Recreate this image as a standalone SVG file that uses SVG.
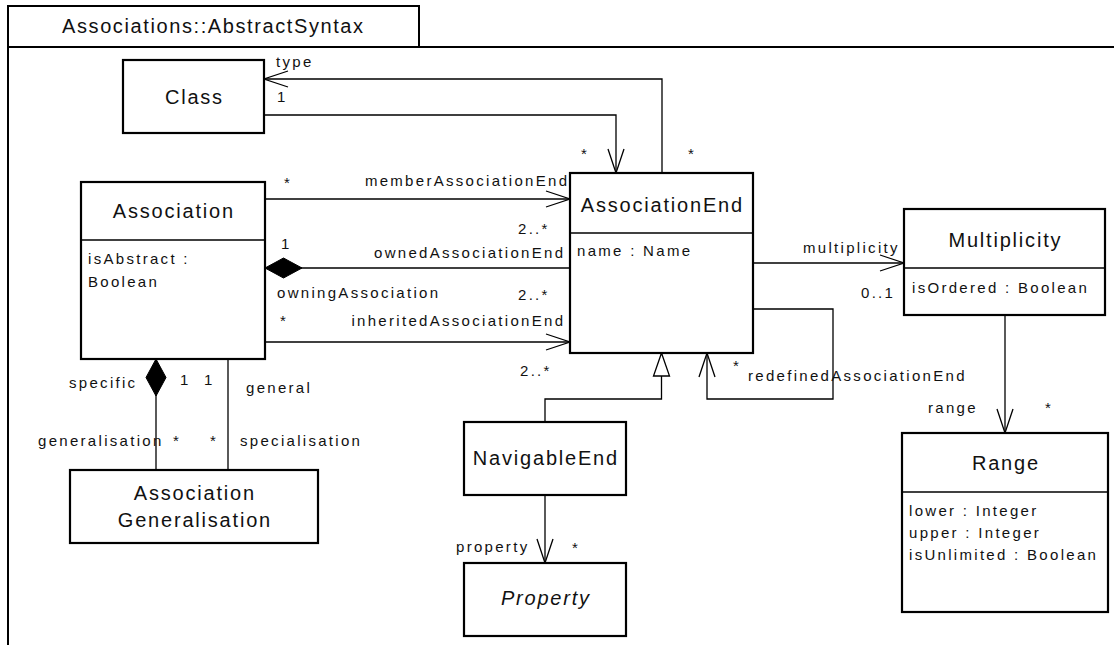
<svg xmlns="http://www.w3.org/2000/svg" width="1114" height="645" viewBox="0 0 1114 645">
<style>
.box{fill:#fff;stroke:#000;stroke-width:2.2}
.div{stroke:#000;stroke-width:1.6}
.frame{fill:none;stroke:#000;stroke-width:2}
.c{fill:none;stroke:#000;stroke-width:1.3}
text{font-family:"Liberation Sans",Arial,sans-serif;fill:#111}
.t{font-size:20px;letter-spacing:1.6px}
.tm{font-size:20px;letter-spacing:1.8px;text-anchor:middle}
.l{font-size:15px;letter-spacing:2.3px}
.le{font-size:15px;letter-spacing:2.3px;text-anchor:end}
</style>
<defs>
<marker id="open" markerUnits="userSpaceOnUse" markerWidth="30" markerHeight="20" orient="auto" overflow="visible" refX="0" refY="0">
<path d="M-24,-8 L0,0 L-24,8" fill="none" stroke="#000" stroke-width="1.3"/>
</marker>
<marker id="dia" markerUnits="userSpaceOnUse" markerWidth="40" markerHeight="22" orient="auto" overflow="visible" refX="0" refY="0">
<path d="M0,0 L18.5,-10 L37,0 L18.5,10 Z" fill="#000" stroke="#000" stroke-width="1"/>
</marker>
<marker id="tri" markerUnits="userSpaceOnUse" markerWidth="30" markerHeight="20" orient="auto" overflow="visible" refX="0" refY="0">
<path d="M0,0 L-23,-8 L-23,8 Z" fill="#fff" stroke="#000" stroke-width="1.3"/>
</marker>
</defs>
<rect width="1114" height="645" fill="#fff"/>
<g id="frame">
<rect x="8" y="6" width="411" height="41" class="frame"/>
<line x1="8" y1="47" x2="1114" y2="47" class="frame"/>
<line x1="8" y1="6" x2="8" y2="645" class="frame"/>
<text class="t" x="62" y="33">Associations::AbstractSyntax</text>
</g>
<g id="connectors">
<polyline class="c" points="662,173 662,79 264,79" marker-end="url(#open)"/>
<polyline class="c" points="264,115 616,115 616,173" marker-end="url(#open)"/>
<line class="c" x1="265" y1="199" x2="570" y2="199" marker-end="url(#open)"/>
<line class="c" x1="265" y1="268" x2="570" y2="268" marker-start="url(#dia)"/>
<line class="c" x1="265" y1="342" x2="570" y2="342" marker-end="url(#open)"/>
<line class="c" x1="753" y1="263" x2="904" y2="263" marker-end="url(#open)"/>
<polyline class="c" points="753,309 833,309 833,399 707,399 707,353" marker-end="url(#open)"/>
<polyline class="c" points="545,422 545,399 661.5,399 661.5,353" marker-end="url(#tri)"/>
<line class="c" x1="545" y1="495" x2="545" y2="563" marker-end="url(#open)"/>
<line class="c" x1="1005" y1="315" x2="1005" y2="433" marker-end="url(#open)"/>
<line class="c" x1="156" y1="359" x2="156" y2="470" marker-start="url(#dia)"/>
<line class="c" x1="228" y1="359" x2="228" y2="470"/>
<text class="l" x="276" y="67">type</text>
<text class="l" x="277" y="102">1</text>
<text class="l" x="581" y="159">*</text>
<text class="l" x="688" y="159">*</text>
<text class="l" x="284" y="188">*</text>
<text class="le" x="569.3" y="186">memberAssociationEnd</text>
<text class="l" x="518" y="234">2..*</text>
<text class="l" x="281" y="249">1</text>
<text class="le" x="565.3" y="258">ownedAssociationEnd</text>
<text class="l" x="277" y="298">owningAssociation</text>
<text class="l" x="518" y="300">2..*</text>
<text class="l" x="280" y="326">*</text>
<text class="le" x="565.3" y="326">inheritedAssociationEnd</text>
<text class="l" x="520" y="376">2..*</text>
<text class="l" x="803" y="253">multiplicity</text>
<text class="l" x="861" y="298">0..1</text>
<text class="l" x="733" y="371">*</text>
<text class="l" x="748" y="381">redefinedAssociationEnd</text>
<text class="l" x="928" y="413">range</text>
<text class="l" x="1045" y="413">*</text>
<text class="l" x="69" y="388">specific</text>
<text class="l" x="180" y="385">1</text>
<text class="l" x="204" y="385">1</text>
<text class="l" x="246" y="393">general</text>
<text class="l" x="38" y="446">generalisation</text>
<text class="l" x="173" y="446">*</text>
<text class="l" x="210" y="446">*</text>
<text class="l" x="240" y="446">specialisation</text>
<text class="l" x="456" y="552">property</text>
<text class="l" x="572" y="553">*</text>
</g>
<g id="Class">
<rect class="box" x="123" y="60" width="141" height="73"/>
<text class="tm" x="194.4" y="104">Class</text>
</g>
<g id="Association">
<rect class="box" x="81" y="182" width="184" height="177"/>
<line class="div" x1="81" y1="240" x2="265" y2="240"/>
<text class="tm" x="173.9" y="218">Association</text>
<text class="l" x="88" y="264">isAbstract :</text>
<text class="l" x="88" y="287">Boolean</text>
</g>
<g id="AssociationEnd">
<rect class="box" x="570" y="173" width="183" height="180"/>
<line class="div" x1="570" y1="233" x2="753" y2="233"/>
<text class="tm" x="662.4" y="212">AssociationEnd</text>
<text class="l" x="577" y="256">name : Name</text>
</g>
<g id="Multiplicity">
<rect class="box" x="904" y="209" width="201" height="106"/>
<line class="div" x1="904" y1="268" x2="1105" y2="268"/>
<text class="tm" x="1005.4" y="247">Multiplicity</text>
<text class="l" x="912" y="293">isOrdered : Boolean</text>
</g>
<g id="Range">
<rect class="box" x="902" y="433" width="206" height="179"/>
<line class="div" x1="902" y1="492" x2="1108" y2="492"/>
<text class="tm" x="1005.9" y="470">Range</text>
<text class="l" x="909" y="516">lower : Integer</text>
<text class="l" x="909" y="538">upper : Integer</text>
<text class="l" x="909" y="560">isUnlimited : Boolean</text>
</g>
<g id="NavigableEnd">
<rect class="box" x="464" y="422" width="162" height="73"/>
<text class="tm" x="545.9" y="465">NavigableEnd</text>
</g>
<g id="Property">
<rect class="box" x="464" y="563" width="162" height="73"/>
<text class="tm" x="545.9" y="605" font-style="italic">Property</text>
</g>
<g id="AssociationGeneralisation">
<rect class="box" x="70" y="470" width="248" height="73"/>
<text class="tm" x="194.9" y="500">Association</text>
<text class="tm" x="194.9" y="527">Generalisation</text>
</g>
</svg>
